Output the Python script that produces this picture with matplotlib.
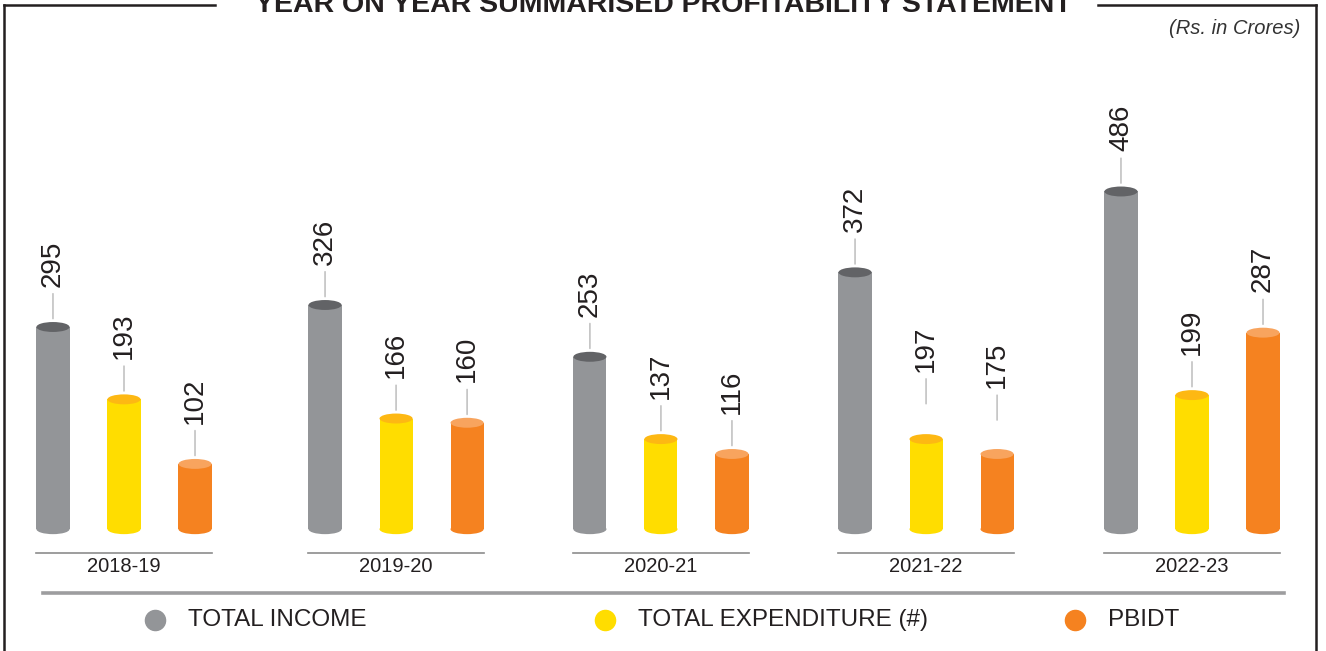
import matplotlib
matplotlib.use("Agg")
import matplotlib.pyplot as plt
from matplotlib.patches import Ellipse
from matplotlib.lines import Line2D

plt.rcParams['font.family'] = ['Liberation Sans', 'DejaVu Sans']

# data (Rs. in Crores)
years = ['2018-19', '2019-20', '2020-21', '2021-22', '2022-23']
total_income = [295, 326, 253, 372, 486]
total_expenditure = [193, 166, 137, 197, 199]
pbidt = [102, 160, 116, 175, 287]
# the report draws the 2021-22 expenditure / pbidt cylinders at these heights
expenditure_drawn = [193, 166, 137, 137, 199]
pbidt_drawn = [102, 160, 116, 116, 287]
series_names = ['TOTAL INCOME', 'TOTAL EXPENDITURE (#)', 'PBIDT']

# styling
W, H = 1326, 651
body_cols = ['#939598', '#ffdd00', '#f58220']
cap_cols = ['#626366', '#fdb813', '#f8a45e']
txt_col = '#231f20'
label_lift = [[0, 0, 0, 0, 0], [0, 0, 0, 38, 0], [0, 0, 0, 36, 0]]
group_x = [0, 1.019, 2.011, 3.004, 4.0]
offs = [-0.266, 0, 0.266]
bw = 0.124
base = 10
cap_h = 14

fig = plt.figure(figsize=(W / 100, H / 100), dpi=100)
ax = fig.add_axes([0, 0, 1, 1])
ax.set_xlim(-0.4644, 4.5019)
ax.set_ylim(-161.7, 755.9)
ax.axis('off')

def fx(px):
    return px / W

def fy(py):
    return 1 - py / H

shown = [total_income, total_expenditure, pbidt]
drawn = [total_income, expenditure_drawn, pbidt_drawn]
for s in range(3):
    for i, yr in enumerate(years):
        x = group_x[i] + offs[s]
        h = drawn[s][i]
        ax.bar(x, h - base, bw, bottom=base, color=body_cols[s], zorder=2)
        ax.add_patch(Ellipse((x, base), bw, cap_h, color=body_cols[s], zorder=1, lw=0))
        ax.add_patch(Ellipse((x, h), bw, cap_h, color=cap_cols[s], zorder=3, lw=0))
        ax.annotate(str(shown[s][i]), xy=(x, h + label_lift[s][i]), xytext=(0, 29),
                    textcoords='offset points', rotation=90, ha='center', va='bottom',
                    fontsize=20, color=txt_col,
                    arrowprops=dict(arrowstyle='-', color='#bdbdbd', lw=1.1,
                                    shrinkA=3, shrinkB=6))

# year axis pieces
for i, yr in enumerate(years):
    gx = group_x[i]
    ax.plot([gx - 0.266 - bw / 2, gx + 0.266 + bw / 2], [-23.5, -23.5], color='#8c8c8c', lw=1.2)
    ax.text(gx, -42, yr, ha='center', va='center', fontsize=14.5, color=txt_col)

# separator
fig.add_artist(Line2D([fx(43), fx(1284)], [fy(593), fy(593)], color='#9d9d9f', lw=2.6))

# legend
leg_x = [155, 605, 1075]
for s in range(3):
    fig.add_artist(Line2D([fx(leg_x[s])], [fy(620)], marker='o', ms=14.5,
                          color=body_cols[s], lw=0))
    fig.text(fx(leg_x[s] + 33), fy(620), series_names[s], ha='left', va='center',
             fontsize=17.5, color=txt_col)

# frame with gap for the title
fc = '#231f20'
fig.add_artist(Line2D([fx(3.5), fx(3.5)], [fy(5), 0], color=fc, lw=1.8))
fig.add_artist(Line2D([fx(1316), fx(1316)], [fy(5), 0], color=fc, lw=1.8))
fig.add_artist(Line2D([fx(3.5), fx(215)], [fy(5), fy(5)], color=fc, lw=1.8))
fig.add_artist(Line2D([fx(1098), fx(1316)], [fy(5), fy(5)], color=fc, lw=1.8))

fig.text(fx(663), fy(12.5), 'YEAR ON YEAR SUMMARISED PROFITABILITY STATEMENT',
         ha='center', va='baseline', fontsize=20.5, fontweight='bold', color=txt_col)
fig.text(fx(1300), fy(28), '(Rs. in Crores)', ha='right', va='center',
         fontsize=14.5, style='italic', color='#333333')

fig.savefig('out.png', dpi=100)
